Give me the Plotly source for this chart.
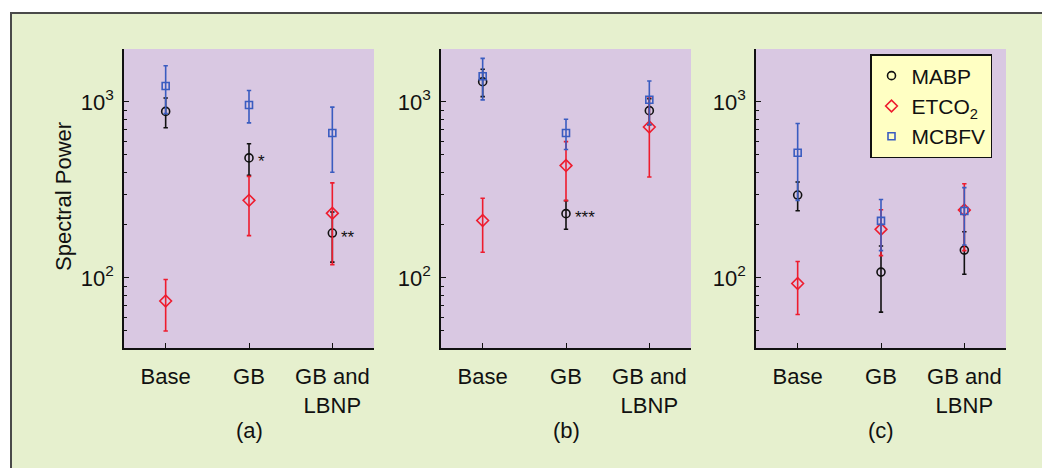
import math
import plotly.graph_objects as go

W, H = 1050, 468

# ---------------- data ----------------
categories = ["Base", "GB", "GB and<br>LBNP"]
cat_pos = [1, 2, 3]

mabp_a = [884, 481, 180]
mabp_a_err = [170, 98, 57]
etco2_a = [74, 276, 233]
etco2_a_err = [24, 102, 114]
mcbfv_a = [1233, 961, 667]
mcbfv_a_err = [374, 200, 268]

mabp_b = [1304, 232, 893]
mabp_b_err = [232, 43, 150]
etco2_b = [212, 435, 721]
etco2_b_err = [72, 160, 346]
mcbfv_b = [1399, 667, 1030]
mcbfv_b_err = [371, 130, 286]

mabp_c = [296, 108, 144]
mabp_c_err = [55, 44, 39]
etco2_c = [93, 189, 243]
etco2_c_err = [31, 55, 100]
mcbfv_c = [515, 211, 240]
mcbfv_c_err = [239, 68, 86]

y_tick_vals = [100, 1000]
y_tick_text = ["10<sup>2</sup>", "10<sup>3</sup>"]
y_minor_vals = [40, 50, 60, 70, 80, 90, 200, 300, 400, 500, 600, 700, 800, 900]

panel_labels = ["(a)", "(b)", "(c)"]
star_notes = [  # (panel index, category index, value, text)
    (0, 1, 481, "*"),
    (0, 2, 180, "**"),
    (1, 1, 232, "***"),
]

# ---------------- styles ----------------
FONT = "Liberation Sans, Arial, Helvetica, sans-serif"
GREEN = "#E6F0CE"
PURPLE = "#D9C8E2"
LEGEND_BG = "#FFFFC3"
BLACK = "#111111"
RED = "#EE1C2E"
BLUE = "#3A5CC0"

series = [
    ("MABP", BLACK, "circle-open", 8, [(mabp_a, mabp_a_err), (mabp_b, mabp_b_err), (mabp_c, mabp_c_err)]),
    ("ETCO<sub>2</sub>", RED, "diamond-open", 9, [(etco2_a, etco2_a_err), (etco2_b, etco2_b_err), (etco2_c, etco2_c_err)]),
    ("MCBFV", BLUE, "square-open", 7, [(mcbfv_a, mcbfv_a_err), (mcbfv_b, mcbfv_b_err), (mcbfv_c, mcbfv_c_err)]),
]

panel_left_px = [116, 433, 748]
panel_width_px = 250
y_top_px, y_bot_px = 41, 340

fig = go.Figure()

for name, color, symbol, msize, per_panel in series:
    for p, (vals, errs) in enumerate(per_panel):
        sfx = "" if p == 0 else str(p + 1)
        fig.add_trace(go.Scatter(
            x=cat_pos, y=vals,
            mode="markers",
            name=name,
            legendgroup=name,
            showlegend=(p == 0),
            marker=dict(symbol=symbol, size=msize, color=color, line=dict(width=1.6, color=color)),
            error_y=dict(type="data", array=errs, symmetric=True, color=color, thickness=1.6, width=2.2),
            xaxis="x" + sfx, yaxis="y" + sfx,
        ))

layout = dict(
    width=W, height=H,
    margin=dict(l=0, r=0, t=0, b=0),
    paper_bgcolor="white",
    plot_bgcolor="rgba(0,0,0,0)",
    font=dict(family=FONT, size=22, color=BLACK),
    showlegend=True,
    legend=dict(
        x=862 / W, y=1 - 46 / H, xanchor="left", yanchor="top",
        bgcolor=LEGEND_BG, bordercolor=BLACK, borderwidth=1.5,
        font=dict(family=FONT, size=21, color=BLACK),
        tracegroupgap=0, itemwidth=30,
    ),
)

shapes = [dict(type="rect", xref="paper", yref="paper",
               x0=3 / W, x1=1046 / W, y0=1 - 464 / H, y1=1 - 5 / H,
               fillcolor=GREEN, line=dict(color="#4a4a4a", width=2), layer="below")]
annotations = []

for p in range(3):
    sfx = "" if p == 0 else str(p + 1)
    x0 = panel_left_px[p] / W
    x1 = (panel_left_px[p] + panel_width_px) / W
    layout["xaxis" + sfx] = dict(
        domain=[x0, x1], anchor="y" + sfx, range=[0.5, 3.5],
        tickmode="array", tickvals=cat_pos, ticktext=categories,
        ticks="inside", ticklen=5, tickwidth=1.2, tickcolor=BLACK,
        showline=True, linecolor=BLACK, linewidth=1.5, showgrid=False, zeroline=False,
        ticklabelstandoff=8, tickfont=dict(size=22, family=FONT, color=BLACK),
    )
    layout["yaxis" + sfx] = dict(
        domain=[1 - y_bot_px / H, 1 - y_top_px / H], anchor="x" + sfx,
        type="log", range=[math.log10(40), math.log10(2000)],
        tickmode="array", tickvals=y_tick_vals, ticktext=y_tick_text,
        ticks="inside", ticklen=5, tickwidth=1.2, tickcolor=BLACK,
        minor=dict(tickmode="array", tickvals=y_minor_vals, ticks="inside", ticklen=3, tickwidth=1, tickcolor=BLACK),
        showline=True, linecolor=BLACK, linewidth=1.5, showgrid=False, zeroline=False,
        ticklabelstandoff=4, tickfont=dict(size=22, family=FONT, color=BLACK),
    )
    shapes.append(dict(type="rect", xref="x" + sfx + " domain", yref="y" + sfx + " domain",
                       x0=0, x1=1, y0=0, y1=1, fillcolor=PURPLE, line=dict(width=0), layer="below"))
    annotations.append(dict(text=panel_labels[p], xref="x" + sfx + " domain", yref="paper",
                            x=0.5, y=1 - 422 / H, xanchor="center", yanchor="middle",
                            showarrow=False, font=dict(size=22, family=FONT, color=BLACK)))

for p, ci, val, txt in star_notes:
    sfx = "" if p == 0 else str(p + 1)
    annotations.append(dict(text=txt, xref="x" + sfx, yref="y" + sfx,
                            x=cat_pos[ci], y=math.log10(val), xanchor="left", yanchor="middle",
                            xshift=7, yshift=-4, showarrow=False,
                            font=dict(size=17, family=FONT, color=BLACK)))

annotations.append(dict(text="Spectral Power", xref="paper", yref="paper",
                        x=55 / W, y=1 - 189 / H, xanchor="center", yanchor="middle",
                        textangle=-90, showarrow=False, font=dict(size=22, family=FONT, color=BLACK)))

layout["shapes"] = shapes
layout["annotations"] = annotations
fig.update_layout(**layout)

fig.write_html("out.html")
